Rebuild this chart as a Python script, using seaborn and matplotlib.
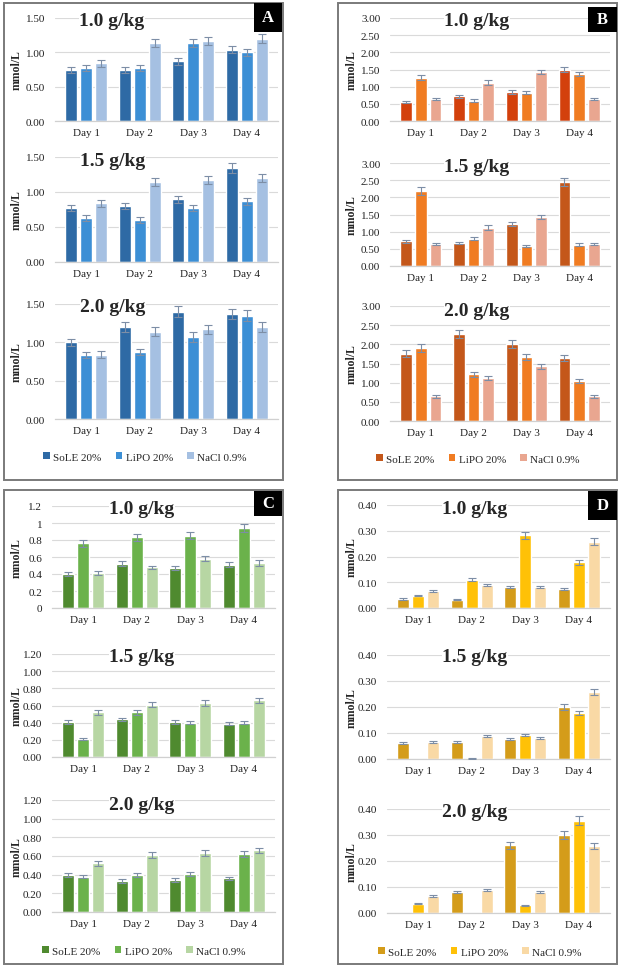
import matplotlib
matplotlib.use("Agg")
import matplotlib.pyplot as plt
from matplotlib.patches import Patch, Rectangle
import numpy as np
import pandas as pd
import seaborn as sns

W, H = 621, 970

DAYS = ["Day 1", "Day 2", "Day 3", "Day 4"]
GROUPS = ["SoLE 20%", "LiPO 20%", "NaCl 0.9%"]
DOSES = ["1.0 g/kg", "1.5 g/kg", "2.0 g/kg"]

# panel A (rows = dose, cols = day)
A_SOLE = [[0.74, 0.74, 0.87, 1.04], [0.77, 0.80, 0.90, 1.34], [1.00, 1.20, 1.40, 1.37]]
A_LIPO = [[0.77, 0.77, 1.14, 1.00], [0.63, 0.60, 0.77, 0.87], [0.84, 0.87, 1.07, 1.35]]
A_NACL = [[0.84, 1.14, 1.17, 1.20], [0.84, 1.14, 1.17, 1.20], [0.84, 1.14, 1.17, 1.20]]
A_SOLE_ERR = [[0.04, 0.04, 0.05, 0.05], [0.04, 0.04, 0.05, 0.07], [0.05, 0.06, 0.07, 0.07]]
A_LIPO_ERR = [[0.04, 0.04, 0.06, 0.05], [0.04, 0.04, 0.04, 0.05], [0.04, 0.04, 0.06, 0.07]]
A_NACL_ERR = [[0.05, 0.06, 0.06, 0.06], [0.05, 0.06, 0.06, 0.06], [0.05, 0.06, 0.06, 0.06]]

# panel B
B_SOLE = [[0.55, 0.72, 0.85, 1.50], [0.72, 0.67, 1.22, 2.45], [1.75, 2.27, 2.01, 1.64]]
B_LIPO = [[1.26, 0.59, 0.83, 1.37], [2.19, 0.80, 0.57, 0.62], [1.91, 1.22, 1.67, 1.05]]
B_NACL = [[0.64, 1.12, 1.43, 0.64], [0.64, 1.12, 1.43, 0.64], [0.64, 1.12, 1.43, 0.64]]
B_SOLE_ERR = [[0.03, 0.04, 0.05, 0.08], [0.04, 0.04, 0.06, 0.12], [0.09, 0.11, 0.10, 0.08]]
B_LIPO_ERR = [[0.07, 0.04, 0.05, 0.07], [0.11, 0.04, 0.03, 0.04], [0.10, 0.06, 0.08, 0.05]]
B_NACL_ERR = [[0.04, 0.06, 0.07, 0.04], [0.04, 0.06, 0.07, 0.04], [0.04, 0.06, 0.07, 0.04]]

# panel C
C_SOLE = [[0.40, 0.52, 0.47, 0.51], [0.41, 0.44, 0.41, 0.39], [0.40, 0.33, 0.34, 0.36]]
C_LIPO = [[0.76, 0.83, 0.85, 0.94], [0.21, 0.52, 0.40, 0.40], [0.38, 0.40, 0.41, 0.62]]
C_NACL = [[0.41, 0.48, 0.58, 0.53], [0.52, 0.61, 0.63, 0.66], [0.52, 0.61, 0.63, 0.66]]
C_SOLE_ERR = [[0.02, 0.03, 0.02, 0.03], [0.02, 0.02, 0.02, 0.02], [0.02, 0.02, 0.02, 0.02]]
C_LIPO_ERR = [[0.04, 0.04, 0.04, 0.05], [0.01, 0.03, 0.02, 0.02], [0.02, 0.02, 0.02, 0.03]]
C_NACL_ERR = [[0.02, 0.02, 0.03, 0.03], [0.03, 0.03, 0.03, 0.03], [0.03, 0.03, 0.03, 0.03]]

# panel D
D_SOLE = [[0.035, 0.032, 0.082, 0.075], [0.062, 0.065, 0.076, 0.200], [0.0, 0.082, 0.260, 0.300]]
D_LIPO = [[0.048, 0.109, 0.282, 0.177], [0.0, 0.002, 0.093, 0.177], [0.035, 0.0, 0.029, 0.355]]
D_NACL = [[0.065, 0.089, 0.082, 0.258], [0.065, 0.089, 0.082, 0.258], [0.065, 0.089, 0.082, 0.258]]
D_SOLE_ERR = [[0.002, 0.002, 0.004, 0.004], [0.003, 0.003, 0.004, 0.010], [0.0, 0.004, 0.013, 0.015]]
D_LIPO_ERR = [[0.003, 0.006, 0.015, 0.009], [0.0, 0.001, 0.005, 0.009], [0.002, 0.0, 0.002, 0.018]]
D_NACL_ERR = [[0.004, 0.005, 0.004, 0.013], [0.004, 0.005, 0.004, 0.013], [0.004, 0.005, 0.004, 0.013]]

PANELS = [
    dict(label="A", box=(4, 4, 283, 481), values=(A_SOLE, A_LIPO, A_NACL),
         errs=(A_SOLE_ERR, A_LIPO_ERR, A_NACL_ERR),
         colors=[["#2e6aa5", "#3c8fd5", "#a5c0e2"]] * 3, legend_colors=["#2e6aa5", "#3c8fd5", "#a5c0e2"],
         ymax=1.5, step=0.5, fmts=["{:.2f}"] * 3,
         axes=[(55, 19, 278, 122), (55, 158, 278, 263), (55, 305, 278, 420)],
         titles=[(112, 22), (113, 161), (113, 307)], ylab_x=17, legend=(145, 458),
         tag=(254, 4, 282, 33)),
    dict(label="B", box=(338, 4, 617, 481), values=(B_SOLE, B_LIPO, B_NACL),
         errs=(B_SOLE_ERR, B_LIPO_ERR, B_NACL_ERR),
         colors=[["#d3400c", "#f07c22", "#e9a690"], ["#c4571a", "#f07c22", "#e9a690"],
                 ["#c4571a", "#f07c22", "#e9a690"]],
         legend_colors=["#c4571a", "#f07c22", "#e9a690"],
         ymax=3.0, step=0.5, fmts=["{:.2f}"] * 3,
         axes=[(390, 19, 610, 122), (390, 164, 610, 267), (390, 307, 610, 422)],
         titles=[(477, 21), (477, 167), (477, 312)], ylab_x=352, legend=(478, 460),
         tag=(588, 8, 617, 33)),
    dict(label="C", box=(4, 491, 283, 965), values=(C_SOLE, C_LIPO, C_NACL),
         errs=(C_SOLE_ERR, C_LIPO_ERR, C_NACL_ERR),
         colors=[["#4f8a2f", "#6bb24b", "#b7d6a3"]] * 3, legend_colors=["#4f8a2f", "#6bb24b", "#b7d6a3"],
         ymax=1.2, step=0.2, fmts=["{:g}", "{:.2f}", "{:.2f}"],
         axes=[(52, 507, 275, 609), (52, 655, 275, 758), (52, 801, 275, 913)],
         titles=[(142, 509), (142, 657), (142, 805)], ylab_x=17, legend=(144, 952),
         tag=(254, 492, 282, 517)),
    dict(label="D", box=(338, 491, 617, 965), values=(D_SOLE, D_LIPO, D_NACL),
         errs=(D_SOLE_ERR, D_LIPO_ERR, D_NACL_ERR),
         colors=[["#d49c1a", "#ffc107", "#f9d9a5"]] * 3, legend_colors=["#d49c1a", "#ffc107", "#f9d9a5"],
         ymax=0.4, step=0.1, fmts=["{:.2f}"] * 3,
         axes=[(387, 506, 610, 609), (387, 656, 610, 760), (387, 810, 610, 914)],
         titles=[(475, 509), (475, 658), (475, 813)], ylab_x=352, legend=(480, 953),
         tag=(588, 492, 617, 521)),
]

sns.set_theme(style="whitegrid")
plt.rcParams["font.family"] = ["Liberation Serif", "DejaVu Serif"]

fig = plt.figure(figsize=(W / 100, H / 100), dpi=100)


def fx(x):
    return x / W


def fy(y):
    return 1 - y / H


def draw_bars(ax, sole, lipo, nacl, errs, colors, ymax, step, fmt):
    frame = pd.DataFrame({
        "day": DAYS * 3,
        "group": np.repeat(GROUPS, len(DAYS)),
        "value": list(sole) + list(lipo) + list(nacl),
    })
    sns.barplot(data=frame, x="day", y="value", hue="group", hue_order=GROUPS, order=DAYS,
                palette=dict(zip(GROUPS, colors)), saturation=1, width=0.84, gap=0.2,
                errorbar=None, legend=False, ax=ax)
    for container, err in zip(ax.containers, errs):
        for bar, e in zip(container, err):
            if e > 0:
                ax.errorbar(bar.get_x() + bar.get_width() / 2, bar.get_height(), yerr=e,
                            fmt="none", ecolor="#7d8ea6", elinewidth=0.8, capsize=2.8,
                            capthick=0.8, zorder=4)
    ticks = np.arange(0, ymax + step / 2, step)
    ax.set_ylim(0, ymax)
    ax.set_yticks(ticks)
    ax.set_yticklabels([fmt.format(round(t, 2)) for t in ticks])
    ax.set_facecolor("white")
    ax.grid(axis="y", color="#dadada", linewidth=0.8)
    ax.grid(axis="x", visible=False)
    for side in ["left", "top", "right"]:
        ax.spines[side].set_visible(False)
    ax.spines["bottom"].set_color("#d0d0d0")
    ax.spines["bottom"].set_linewidth(0.9)
    ax.tick_params(axis="both", length=0, labelsize=8, colors="#222222")
    ax.tick_params(axis="y", pad=7)
    ax.tick_params(axis="x", pad=5)
    ax.set_xlabel("")
    ax.set_ylabel("")


for panel in PANELS:
    x0, y0, x1, y1 = panel["box"]
    fig.patches.append(Rectangle((fx(x0), fy(y1)), fx(x1 - x0), (y1 - y0) / H, transform=fig.transFigure,
                                 fill=False, edgecolor="#7a7a7a", linewidth=1.4, zorder=5))
    for i in range(3):
        left, top, right, bottom = panel["axes"][i]
        ax = fig.add_axes([fx(left), fy(bottom), fx(right - left), (bottom - top) / H])
        draw_bars(ax, panel["values"][0][i], panel["values"][1][i], panel["values"][2][i],
                  [e[i] for e in panel["errs"]], panel["colors"][i],
                  panel["ymax"], panel["step"], panel["fmts"][i])
        tx, ty = panel["titles"][i]
        fig.text(fx(tx), fy(ty), DOSES[i], ha="center", va="center", fontsize=14, fontweight="bold",
                 bbox=dict(facecolor="white", edgecolor="none", pad=0.5))
        fig.text(fx(panel["ylab_x"]), fy((top + bottom) / 2), "mmol/L", rotation=90, ha="center",
                 va="center", fontsize=8.5, fontweight="bold")
    handles = [Patch(facecolor=c, edgecolor="none") for c in panel["legend_colors"]]
    lx, ly = panel["legend"]
    fig.legend(handles, GROUPS, loc="center", bbox_to_anchor=(fx(lx), fy(ly)), ncol=3, frameon=False,
               fontsize=8, handlelength=0.6, handleheight=0.6, handletextpad=0.3, columnspacing=1.3)
    t0, t1, t2, t3 = panel["tag"]
    fig.patches.append(Rectangle((fx(t0), fy(t3)), fx(t2 - t0), (t3 - t1) / H, transform=fig.transFigure,
                                 facecolor="black", edgecolor="none", zorder=6))
    fig.text(fx((t0 + t2) / 2), fy((t1 + t3) / 2), panel["label"], ha="center", va="center",
             color="white", fontsize=12, fontweight="bold", zorder=7)

fig.savefig("out.png", dpi=100)
